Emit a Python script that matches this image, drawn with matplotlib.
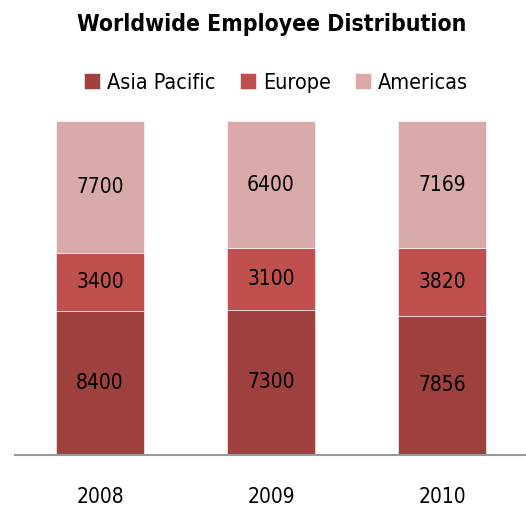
import matplotlib
matplotlib.use("Agg")
import matplotlib.pyplot as plt
import numpy as np
from matplotlib import font_manager

years = ["2008", "2009", "2010"]
asia_pacific = [8400, 7300, 7856]
europe = [3400, 3100, 3820]
americas = [7700, 6400, 7169]

series = [("Asia Pacific", asia_pacific, "#9E403E"),
          ("Europe", europe, "#C0504D"),
          ("Americas", americas, "#D9AAAA")]

# look for a narrow font, the original uses a condensed face
fonts = font_manager.fontManager.ttflist
narrow = [f for f in fonts if "narrow" in f.name.lower() or "condensed" in f.name.lower()
          or str(f.stretch) in ("condensed", "semi-condensed", "semicondensed", "600", "300", "500")]
cond_regular = None
cond_bold = None
for f in narrow:
    w = f.weight if isinstance(f.weight, int) else (700 if "bold" in str(f.weight) else 400)
    if f.style != "normal":
        continue
    if w >= 700 and cond_bold is None:
        cond_bold = f.fname
    if w < 600 and cond_regular is None:
        cond_regular = f.fname

reg = font_manager.FontProperties(fname=cond_regular) if cond_regular else font_manager.FontProperties(family="DejaVu Sans")
bold = font_manager.FontProperties(fname=cond_bold) if cond_bold else font_manager.FontProperties(family="DejaVu Sans", weight="bold")

fig = plt.figure(figsize=(5.26, 5.08), dpi=100)
ax = fig.add_axes([14.5 / 526, 53 / 508, 513 / 526, 334 / 508])

x = np.arange(len(years))
totals = np.array(asia_pacific) + np.array(europe) + np.array(americas)
bottom = np.zeros(len(years))
for name, vals, color in series:
    share = np.array(vals) / totals
    ax.bar(x, share, 0.515, bottom=bottom, color=color, label=name,
           edgecolor="white", linewidth=0.4)
    for xi, b, s, v in zip(x, bottom, share, vals):
        ax.text(xi, b + s / 2, str(v), ha="center", va="center",
                fontproperties=reg, fontsize=15, color="black")
    bottom += share

for xi, yr in zip(x, years):
    ax.text(xi, -0.126, yr, ha="center", va="center", fontproperties=reg,
            fontsize=15, transform=ax.get_xaxis_transform())

ax.set_xlim(-0.5, 2.5)
ax.set_ylim(0, 1)
ax.set_xticks([])
ax.set_yticks([])
for side in ["top", "right", "left"]:
    ax.spines[side].set_visible(False)
ax.spines["bottom"].set_color("#999999")
ax.spines["bottom"].set_linewidth(1.5)

fig.text(0.517, 0.951, "Worldwide Employee Distribution", ha="center", va="center",
         fontproperties=bold, fontsize=16.5)

leg_font = reg.copy()
leg_font.set_size(15.5)
fig.legend(loc="center", bbox_to_anchor=(0.525, 0.837), ncol=3, frameon=False,
           prop=leg_font, handlelength=0.75, handleheight=0.75, handletextpad=0.3,
           columnspacing=1.15)

fig.savefig("out.png", dpi=100)
